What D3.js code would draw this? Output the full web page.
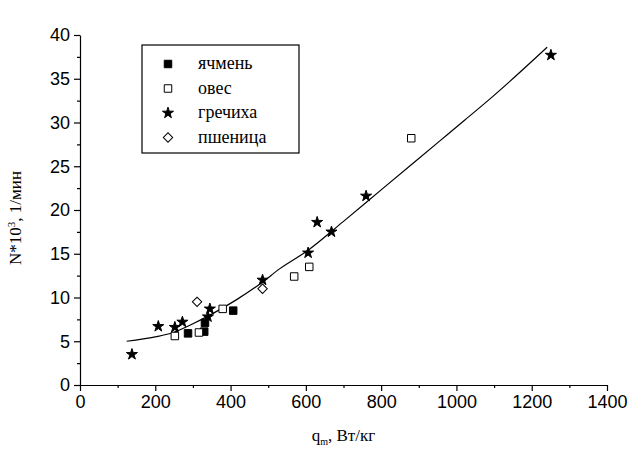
<!DOCTYPE html>
<html>
<head>
<meta charset="utf-8">
<script src="https://cdn.jsdelivr.net/npm/d3@7"></script>
<style>
  body { margin: 0; background: #fff; }
</style>
</head>
<body>
<div class="chart"></div>
<script>
// data: [q_m, N*10^3]
var barley = [[287, 5.9], [330, 6.1], [332, 7.1], [407, 8.5]];
var oats = [[252, 5.6], [316, 6.0], [379, 8.7], [569, 12.4], [609, 13.5], [880, 28.2]];
var buckwheat = [[138, 3.5], [208, 6.7], [252, 6.6], [272, 7.2], [340, 7.8], [345, 8.7],
    [485, 12.0], [606, 15.1], [630, 18.6], [668, 17.5], [760, 21.6], [1251, 37.7]];
var wheat = [[311, 9.5], [485, 11.0]];
// fitted curve
var fitCurve = [[124, 5.0], [200, 5.5], [248, 6.0], [300, 7.0], [350, 8.1], [414, 9.7],
    [480, 11.6], [531, 13.3], [606, 15.4], [700, 18.7], [800, 22.3], [956, 27.9],
    [1020, 30.2], [1100, 33.1], [1241, 38.6]];

var legendNames = ["ячмень", "овес", "гречиха", "пшеница"];
var xTicks = [0, 200, 400, 600, 800, 1000, 1200, 1400];
var yTicks = [0, 5, 10, 15, 20, 25, 30, 35, 40];

var sans = "'Liberation Sans', Arial, sans-serif";
var serif = "'Liberation Serif', 'Times New Roman', serif";

var svgWidth = 632;
var svgHeight = 453;
var margin = { top: 35, right: 25, bottom: 68, left: 80 };
var width = svgWidth - margin.left - margin.right;
var height = svgHeight - margin.top - margin.bottom;

var svg = d3.select(".chart")
    .append("svg")
    .attr("width", svgWidth)
    .attr("height", svgHeight);

var chart = svg.append("g")
    .attr("transform", "translate(" + margin.left + "," + margin.top + ")");

var x = d3.scaleLinear().domain([0, 1400]).range([0, width]);
var y = d3.scaleLinear().domain([0, 40]).range([height, 0]);

// minor ticks
chart.append("g")
    .attr("transform", "translate(0," + height + ")")
    .call(d3.axisBottom(x).tickValues(d3.range(100, 1400, 200)).tickSize(3).tickFormat(""))
    .call(function(g) { g.select(".domain").remove(); });
chart.append("g")
    .call(d3.axisLeft(y).tickValues(d3.range(2.5, 40, 5)).tickSize(3).tickFormat(""))
    .call(function(g) { g.select(".domain").remove(); });

// major axes
chart.append("g")
    .attr("transform", "translate(0," + height + ")")
    .call(d3.axisBottom(x).tickValues(xTicks).tickFormat(d3.format("d"))
        .tickSize(6).tickSizeOuter(0).tickPadding(4));
chart.append("g")
    .call(d3.axisLeft(y).tickValues(yTicks).tickFormat(d3.format("d"))
        .tickSize(6).tickSizeOuter(0).tickPadding(4));

chart.selectAll(".domain, .tick line").attr("stroke", "#000").attr("stroke-width", 1.2);
chart.selectAll(".tick text")
    .attr("fill", "#000")
    .attr("font-family", sans)
    .attr("font-size", 18);

// curve
chart.append("path")
    .datum(fitCurve)
    .attr("fill", "none")
    .attr("stroke", "#000")
    .attr("stroke-width", 1.2)
    .attr("d", d3.line()
        .x(function(d) { return x(d[0]); })
        .y(function(d) { return y(d[1]); })
        .curve(d3.curveMonotoneX));

var squarePath = d3.symbol().type(d3.symbolSquare).size(56)();
var starPath = d3.symbol().type(d3.symbolStar).size(38)();
var diamondPath = d3.symbol().type(d3.symbolSquare).size(44)();

var series = [
    { name: legendNames[0], data: barley, path: squarePath, fill: "#000", rot: 0 },
    { name: legendNames[1], data: oats, path: squarePath, fill: "#fff", rot: 0 },
    { name: legendNames[2], data: buckwheat, path: starPath, fill: "#000", rot: 0 },
    { name: legendNames[3], data: wheat, path: diamondPath, fill: "#fff", rot: 45 }
];

series.forEach(function(s) {
    chart.selectAll(null)
        .data(s.data)
        .enter().append("path")
        .attr("d", s.path)
        .attr("transform", function(d) {
            return "translate(" + x(d[0]) + "," + y(d[1]) + ") rotate(" + s.rot + ")";
        })
        .attr("fill", s.fill)
        .attr("stroke", "#000")
        .attr("stroke-width", 1);
});

// legend
var legend = svg.append("g").attr("transform", "translate(142,45)");
legend.append("rect")
    .attr("width", 157)
    .attr("height", 108)
    .attr("fill", "#fff")
    .attr("stroke", "#000")
    .attr("stroke-width", 1.2);

series.forEach(function(s, i) {
    var row = legend.append("g").attr("transform", "translate(0," + (19 + i * 24.5) + ")");
    row.append("path")
        .attr("d", s.path)
        .attr("transform", "translate(26,0) rotate(" + s.rot + ")")
        .attr("fill", s.fill)
        .attr("stroke", "#000")
        .attr("stroke-width", 1);
    row.append("text")
        .attr("font-family", serif)
        .attr("font-size", 18)
        .attr("x", 56)
        .attr("y", 5)
        .text(s.name);
});

// axis titles
var yTitle = svg.append("text")
    .attr("font-family", serif)
    .attr("font-size", 17)
    .attr("transform", "translate(21," + (margin.top + height / 2 + 8) + ") rotate(-90)")
    .attr("text-anchor", "middle");
yTitle.append("tspan").text("N*10");
yTitle.append("tspan").attr("dy", -6).attr("font-size", 11).text("3");
yTitle.append("tspan").attr("dy", 6).text(", 1/мин");

var xTitle = svg.append("text")
    .attr("font-family", serif)
    .attr("font-size", 17)
    .attr("x", margin.left + width / 2)
    .attr("y", 441)
    .attr("text-anchor", "middle");
xTitle.append("tspan").text("q");
xTitle.append("tspan").attr("dy", 4).attr("font-size", 10).text("m");
xTitle.append("tspan").attr("dy", -4).text(", Вт/кг");
</script>
</body>
</html>
